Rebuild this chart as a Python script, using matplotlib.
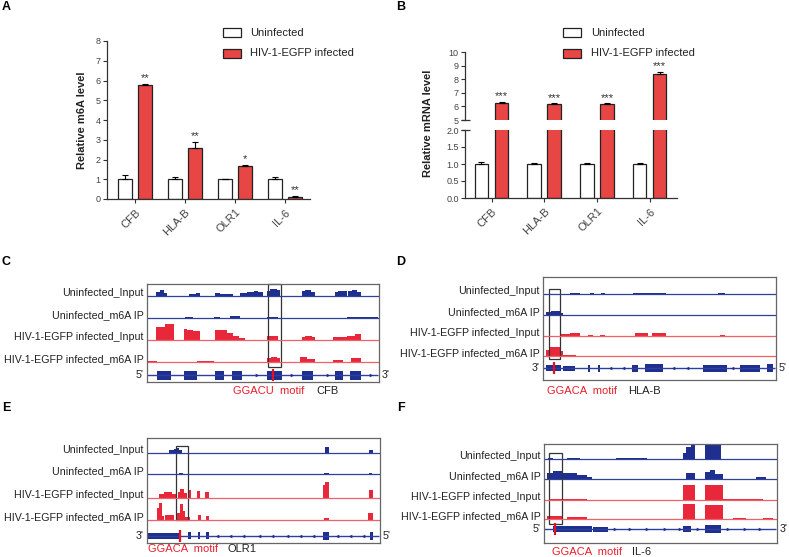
import numpy as np
import matplotlib
matplotlib.use("Agg")
import matplotlib.pyplot as plt
from matplotlib.patches import Rectangle

plt.rcParams['font.family'] = ['Liberation Sans', 'DejaVu Sans']

W, H = 789, 557

# ---- bar data (A: m6A, B: mRNA) ----
genes = ["CFB", "HLA-B", "OLR1", "IL-6"]
m6a_uninf = [1.0, 1.0, 1.0, 1.0]
m6a_uninf_err = [0.2, 0.13, 0.03, 0.12]
m6a_inf = [5.75, 2.6, 1.68, 0.12]
m6a_inf_err = [0.07, 0.3, 0.06, 0.03]
m6a_stars = ["**", "**", "*", "**"]

mrna_uninf = [1.0, 1.0, 1.0, 1.0]
mrna_uninf_err = [0.05, 0.02, 0.02, 0.03]
mrna_inf = [6.25, 6.2, 6.2, 8.4]
mrna_inf_err = [0.08, 0.05, 0.05, 0.15]
mrna_stars = ["***", "***", "***", "***"]

track_names = ["Uninfected_Input", "Uninfected_m6A IP",
               "HIV-1-EGFP infected_Input", "HIV-1-EGFP infected_m6A IP"]

# ---- coverage tracks: (start %, end %, height px) ----
cfb_tracks = [
    [(4.0, 5.5, 4), (5.5, 7.2, 5.5), (7.2, 8.6, 3), (17.9, 21, 1.5), (21, 22.9, 2.5),
     (29.4, 31.5, 3), (31.5, 37.2, 2), (40.1, 43, 2.5), (43, 46, 3.5), (46, 48, 5), (48, 50, 4),
     (51.6, 53, 5), (53, 56, 7), (56, 57.3, 5.5), (66.6, 68, 5), (68, 70.5, 6), (70.5, 72.3, 4),
     (81, 82.5, 4), (82.5, 86, 5), (86.7, 88.5, 4.5), (88.5, 90.5, 5.5), (90.5, 92.4, 4)],
    [(16.5, 20, 0.7), (28.7, 31.5, 0.7), (35.8, 40, 1.8), (51.6, 56.6, 0.8), (86, 99.6, 1.3)],
    [(4, 7.9, 13), (7.9, 11.5, 16), (15.8, 17.2, 11), (17.2, 20, 9.5), (20, 22.9, 8.5),
     (29.4, 34.4, 10), (34.4, 37.2, 7), (37.2, 39.5, 4), (39.5, 42.3, 1.5), (51.6, 56.6, 3.5),
     (66.6, 68, 2.5), (68, 71, 3.5), (71, 72.3, 2.5), (80.2, 86, 2.5), (86, 89.5, 4), (89.5, 92.4, 6)],
    [(0, 4.3, 1), (21.5, 28.7, 0.5), (51.6, 53.5, 4), (53.5, 56, 5), (56, 57.3, 4),
     (65.9, 69, 4.5), (69, 72.3, 3), (80.2, 84.5, 2), (88, 92.4, 4)],
]
cfb_exons = [(4.3, 10.3, 9), (16, 21.5, 9), (29.4, 33, 9), (36.5, 40.8, 9), (51.6, 58, 9),
             (66.6, 71.6, 9), (81, 84.5, 9), (87.4, 92.4, 9)]
cfb_arrows = [47.3, 62.3, 78, 96.7]

hlab_tracks = [
    [(11.5, 15.8, 0.5), (20, 22, 0.5), (25, 26.5, 0.5), (38.7, 53, 0.5), (75, 78, 0.5)],
    [(1.4, 3.6, 3), (3.6, 7.2, 4), (7.2, 8.6, 2)],
    [(7.2, 11.5, 1.5), (11.5, 15.8, 2.5), (19.3, 21.5, 1.2), (24.4, 26.5, 1.2),
     (39.4, 45.1, 2.5), (46.6, 53, 2.5), (76, 78, 0.6)],
    [(1.4, 2.9, 6), (2.9, 7.2, 9), (7.2, 8.6, 5), (8.6, 14.3, 1.5)],
]
hlab_exons = [(1.4, 7.9, 6), (8.6, 13.6, 5), (19.3, 20.3, 7), (23.6, 24.4, 7), (38, 40.8, 7),
              (43.7, 51.6, 8), (68.8, 78.8, 7), (84.5, 93, 7), (96, 98.9, 8)]
hlab_arrows = [28.7, 34.4, 55.9, 61.6, 81]

olr1_tracks = [
    [(9.3, 11.4, 2.5), (11.4, 12.9, 3.5), (12.9, 13.9, 4.5), (13.9, 15, 3), (76.4, 77.9, 6),
     (95.4, 97.1, 3)],
    [(13.6, 15.3, 1.2), (76, 78.3, 1), (95.4, 96.6, 1)],
    [(5, 7.1, 4), (7.1, 10.7, 6), (10.7, 12.9, 4), (13.3, 14.3, 6), (14.3, 15.7, 9), (15.7, 17.1, 5),
     (17.6, 19, 8), (21.4, 22.9, 7), (24.9, 26.6, 6), (75.7, 76.4, 13), (76.4, 77.9, 16),
     (77.9, 78.3, 10), (95.4, 97.1, 8)],
    [(4.3, 5.3, 12), (5.3, 6.4, 17), (6.4, 7.4, 4), (7.9, 11.4, 5), (12.9, 14.3, 7),
     (14.3, 15.4, 16), (15.4, 16.4, 9), (16.4, 18.6, 3), (22.1, 23.1, 5), (25.4, 26.6, 4),
     (76, 77.9, 2.5), (95, 97.1, 7)],
]
olr1_exons = [(0, 14.3, 6), (17.6, 18.9, 7), (21.7, 22.6, 7), (25.4, 26.4, 7), (75.7, 78.1, 8),
              (95.7, 96.9, 8)]
olr1_arrows = [30, 35.7, 41.4, 47.9, 53.6, 60, 65.7, 71.4, 81.4, 87.1, 92.9]

il6_tracks = [
    [(1.9, 4, 1), (9.7, 15.4, 1), (31, 44, 1), (59.7, 61.1, 6), (61.1, 62.9, 12),
     (62.9, 64.7, 14), (69, 76.1, 16)],
    [(1.1, 4, 6), (4, 8.3, 8), (8.3, 14, 6), (14, 18.3, 4), (18.3, 20.4, 2), (61.1, 64.7, 6),
     (69, 71.1, 7), (71.1, 73.3, 9), (73.3, 76.9, 5), (91.1, 95.4, 2)],
    [(2.6, 18.3, 1), (59.7, 64.7, 15), (69, 76.9, 15), (76.9, 81.1, 1.5), (81.1, 94, 0.8)],
    [(1.1, 7.6, 3), (9.7, 18.3, 2), (59.7, 64.7, 15), (69, 76.9, 14), (81.1, 86.9, 1),
     (94, 98.3, 1)],
]
il6_exons = [(4, 20.4, 6), (21.1, 27.6, 5), (59.7, 63.3, 6), (69, 76.1, 8)]
il6_arrows = [30.4, 36.9, 44, 51.9, 58.3, 66.1, 79, 86.1, 92.6]

BLUE = '#1e2f8f'
BLUE_LINE = '#2f3f9e'
RED = '#e8283a'
RED_LINE = '#f0606c'
BAR_RED = '#e84545'

fig = plt.figure(figsize=(W / 100, H / 100), dpi=100)


def px_axes(l, t, r, b):
    return fig.add_axes([l / W, 1 - b / H, (r - l) / W, (b - t) / H])


def style_bar_axes(ax):
    for s in ['top', 'right']:
        ax.spines[s].set_visible(False)
    for s in ['left', 'bottom']:
        ax.spines[s].set_color('#333')
        ax.spines[s].set_linewidth(0.9)
    ax.tick_params(labelsize=6.5, colors='#333', length=3, width=0.8, labelcolor='#444', pad=1.5)


def draw_bars(ax, x, uninf, uerr, inf, ierr, off, w):
    ax.bar(x - off, uninf, w, color='white', edgecolor='#222', lw=0.9,
           yerr=[np.zeros(4), uerr], error_kw=dict(lw=0.8, capsize=2, capthick=0.8))
    ax.bar(x + off, inf, w, color=BAR_RED, edgecolor='#222', lw=0.9,
           yerr=[np.zeros(4), ierr], error_kw=dict(lw=0.8, capsize=2, capthick=0.8))


x = np.arange(4)

# ---- A ----
axA = px_axes(107, 41, 310, 199)
draw_bars(axA, x, m6a_uninf, m6a_uninf_err, m6a_inf, m6a_inf_err, 0.2, 0.28)
axA.set_xlim(-0.56, 3.5)
axA.set_ylim(0, 8)
axA.set_yticks(range(0, 9))
axA.set_xticks(x)
axA.set_xticklabels(genes, rotation=45, ha='right', rotation_mode='anchor')
style_bar_axes(axA)
axA.tick_params(axis='x', labelsize=8, pad=3)
for i in range(4):
    axA.text(x[i] + 0.2, m6a_inf[i] + m6a_inf_err[i] + 0.03, m6a_stars[i],
             ha='center', va='bottom', fontsize=8, color='#333')

# ---- B (broken axis) ----
axBt = px_axes(465, 52, 677, 120)
axBb = px_axes(465, 130, 677, 198)
for ax in (axBt, axBb):
    draw_bars(ax, x, mrna_uninf, mrna_uninf_err, mrna_inf, mrna_inf_err, 0.19, 0.256)
    ax.set_xlim(-0.503, 3.52)
    style_bar_axes(ax)
axBt.set_ylim(5, 10)
axBt.set_yticks(range(5, 11))
axBt.spines['bottom'].set_visible(False)
axBt.set_xticks([])
axBb.set_ylim(0, 2)
axBb.set_yticks([0, 0.5, 1.0, 1.5, 2.0])
axBb.set_yticklabels(["0.0", "0.5", "1.0", "1.5", "2.0"])
axBb.set_xticks(x)
axBb.set_xticklabels(genes, rotation=45, ha='right', rotation_mode='anchor')
axBb.tick_params(axis='x', labelsize=8, pad=3)
for i in range(4):
    axBt.text(x[i] + 0.19, mrna_inf[i] + mrna_inf_err[i] + 0.03, mrna_stars[i],
              ha='center', va='bottom', fontsize=8, color='#333')


# ---- genome tracks ----
def draw_panel(box, baselines, tracks, gene_y, exons, arrows, arrow_mark, motif_x, hl,
               left_end, right_end):
    l, t, r, b = box
    hgt = b - t
    ax = px_axes(l, t, r, b)
    ax.set_xlim(0, 100)
    ax.set_ylim(0, hgt)
    ax.set_xticks([])
    ax.set_yticks([])
    for s in ax.spines.values():
        s.set_color('#666')
        s.set_linewidth(0.9)
    for k, (base, peaks) in enumerate(zip(baselines, tracks)):
        fc = BLUE if k < 2 else RED
        lc = BLUE_LINE if k < 2 else RED_LINE
        ax.hlines(base, 0, 100, color=lc, lw=0.9)
        for x0, x1, h in peaks:
            ax.fill_between([x0, x1], base, base + h, color=fc, lw=0)
        ax.text(-1.5, base + 3, track_names[k], ha='right',
                va='center', fontsize=7.7, color='#222', clip_on=False)
    ax.hlines(gene_y, 0, 99.5, color=BLUE_LINE, lw=1.0)
    for x0, x1, h in exons:
        ax.add_patch(Rectangle((x0, gene_y - h / 2), x1 - x0, h, color=BLUE, lw=0))
    ax.plot(arrows, [gene_y] * len(arrows), ls='none', marker=arrow_mark, ms=2.6,
            color=BLUE, mew=0)
    ax.vlines(motif_x, gene_y - 6, gene_y + 6, color='#e8101e', lw=1.6)
    hx0, hx1, hy0, hy1 = hl
    ax.add_patch(Rectangle((hx0, hy0), hx1 - hx0, hy1 - hy0, fill=False,
                           ec='#333', lw=0.9, clip_on=False))
    ax.text(-1.5, gene_y, left_end, ha='right', va='center', fontsize=7.7, color='#222',
            clip_on=False)
    ax.text(101.2, gene_y, right_end, ha='left', va='center', fontsize=7.7, color='#222',
            clip_on=False)
    return ax


draw_panel((147, 284, 379, 382), [86, 64, 42, 20], cfb_tracks, 7, cfb_exons, cfb_arrows, '>',
           54.4, (52.3, 57.6, 15, 98), "5'", "3'")
draw_panel((543, 277, 776, 380), [86, 65, 44, 24], hlab_tracks, 11.7, hlab_exons, hlab_arrows,
           '<', 4.6, (2.4, 7.4, 20.7, 90.7), "3'", "5'")
draw_panel((147, 438, 380, 543), [90.3, 68.7, 45.3, 23], olr1_tracks, 7.3, olr1_exons,
           olr1_arrows, '<', 14.3, (12.4, 17.4, 23, 97.3), "3'", "5'")
draw_panel((544, 444, 777, 543), [83.7, 63.7, 43, 23.7], il6_tracks, 13.7, il6_exons,
           il6_arrows, '>', 4.7, (2.3, 7.6, 19, 89.7), "5'", "3'")

# ---- overlay in pixel coords: letters, legends, labels ----
ov = fig.add_axes([0, 0, 1, 1])
ov.set_xlim(0, W)
ov.set_ylim(H, 0)
ov.axis('off')

for lab, (lx, ly) in zip("ABCDEF", [(6, 7), (401, 7), (6, 262), (401, 262), (6, 408), (401, 408)]):
    ov.text(lx, ly, lab, fontsize=9, fontweight='bold', ha='center', va='center')

# axis break marks in B
ov.hlines([120, 130], 461, 470, color='#333', lw=0.9)

for lx, tx in [(223, 250), (563, 591)]:
    ov.add_patch(Rectangle((lx, 28), 18, 9, fc='white', ec='#222', lw=0.9))
    ov.add_patch(Rectangle((lx, 49), 18, 9, fc=BAR_RED, ec='#222', lw=0.9))
    ov.text(tx, 32.5, "Uninfected", fontsize=8, va='center', color='#222')
    ov.text(tx, 53.5, "HIV-1-EGFP infected", fontsize=8, va='center', color='#222')

ov.text(82, 120, "Relative m6A level", rotation=90, fontsize=8, fontweight='bold',
        ha='center', va='center', color='#222')
ov.text(428, 123, "Relative mRNA level", rotation=90, fontsize=8, fontweight='bold',
        ha='center', va='center', color='#222')

for mx, my, motif, gx, gname in [(233, 391, "GGACU  motif", 316, "CFB"),
                                 (547, 391, "GGACA  motif", 628, "HLA-B"),
                                 (148, 549, "GGACA  motif", 228, "OLR1"),
                                 (552, 552, "GGACA  motif", 632, "IL-6")]:
    ov.text(mx, my, motif, fontsize=8, color='#e8202e', va='center')
    ov.text(gx, my, gname, fontsize=8, color='#222', va='center')

fig.savefig("out.png", dpi=100)
